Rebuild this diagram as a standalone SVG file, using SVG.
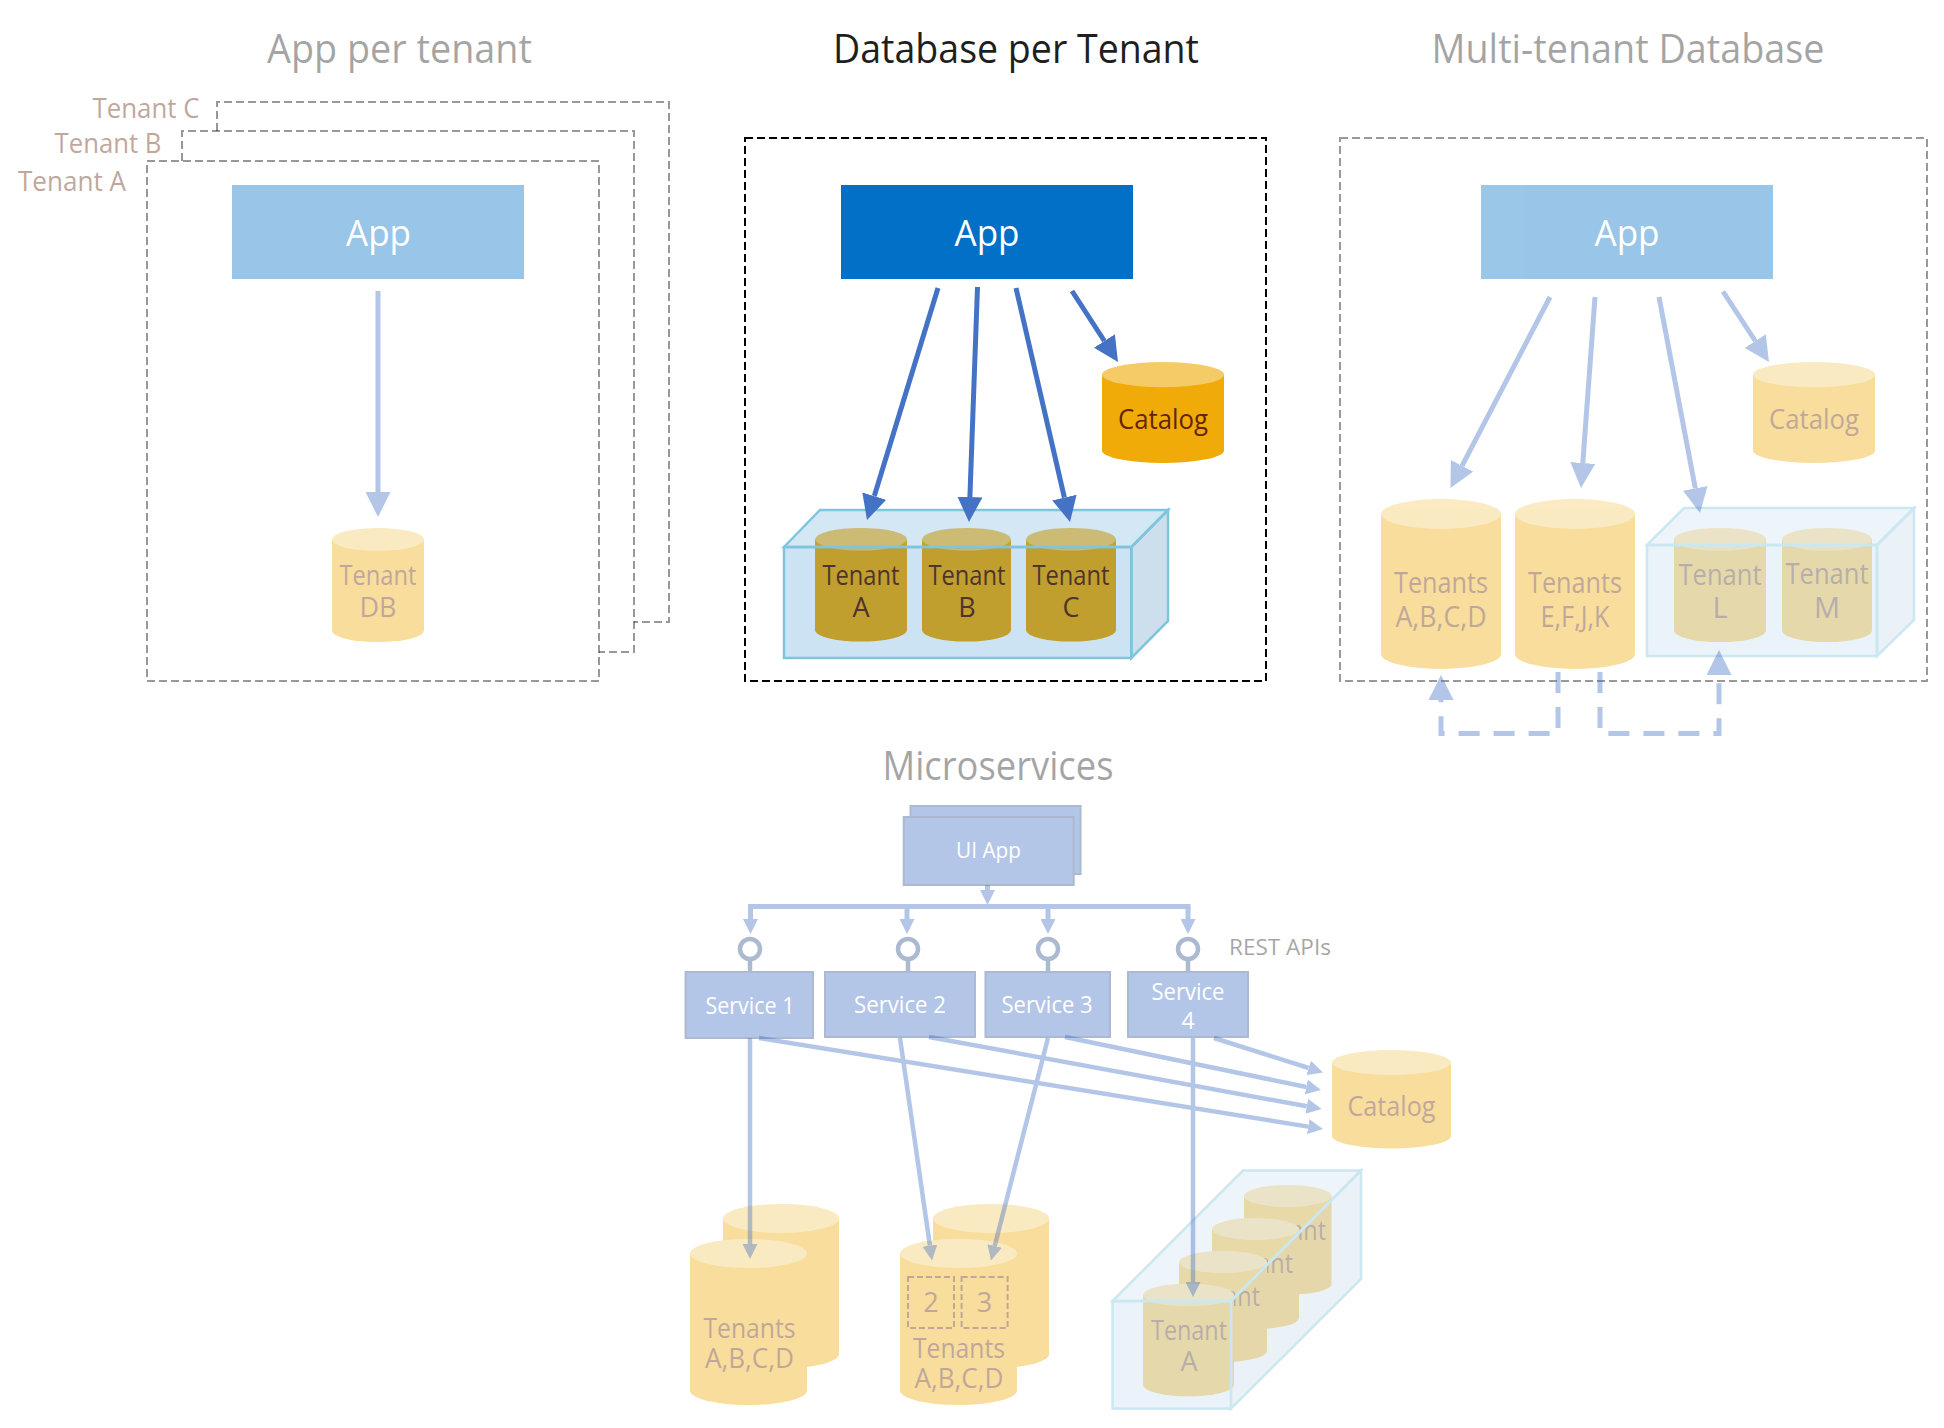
<svg xmlns="http://www.w3.org/2000/svg" width="1944" height="1428" viewBox="0 0 1944 1428">
<style>
text{font-family:"Open Sans","Noto Sans","Liberation Sans",sans-serif;font-weight:400;text-anchor:middle;fill:#632506}
.f{opacity:.4}
.title{font-size:40px;fill:#1f1f1f}
.app{font-size:36px;fill:#fff}
.lbl{font-size:27px}
.big{font-size:29px}
.sv{font-size:23px;fill:#fff}
.frame{fill:none;stroke:#000;stroke-width:2;stroke-dasharray:8 4}
.body{fill:#f0ab09}
.lid{fill:#f4cb66}
.front{fill:#0072c6;fill-opacity:.2;stroke:#7fc5dd;stroke-width:2.5}
.topf{fill:#0072c6;fill-opacity:.17;stroke:#7fc5dd;stroke-width:2.5}
.side{fill:#1b6fab;fill-opacity:.22;stroke:#7fc5dd;stroke-width:2.5}
.svc{fill:#4472c4;stroke:#2f528f;stroke-width:2}
.ln{fill:none;stroke:#4472c4;stroke-width:5}
.thin{fill:none;stroke:#4472c4;stroke-width:4.5}
.dash{stroke-dasharray:21 14}
.stem{stroke:#2f528f;stroke-width:4.5}
.ring{fill:#fff;stroke:#2f528f;stroke-width:4.5}
.mini{fill:none;stroke:#632506;stroke-width:2;stroke-dasharray:6 3}
.lg{marker-end:url(#lg)}
.sm{marker-end:url(#sm)}
</style>
<defs>
<marker id="lg" markerUnits="userSpaceOnUse" markerWidth="25" markerHeight="25" refX="0" refY="12.5" orient="auto" viewBox="0 0 25 25"><path d="M0 0L25 12.5L0 25Z" fill="#4472c4"/></marker>
<marker id="sm" markerUnits="userSpaceOnUse" markerWidth="15" markerHeight="15" refX="0" refY="7.5" orient="auto" viewBox="0 0 15 15"><path d="M0 0L15 7.5L0 15Z" fill="#4472c4"/></marker>
</defs>

<g id="title-app-per-tenant" class="f"><text class="title" x="399.5" y="63" textLength="265" lengthAdjust="spacingAndGlyphs">App per tenant</text></g>
<g id="title-database-per-tenant"><text class="title" x="1016" y="63" textLength="366" lengthAdjust="spacingAndGlyphs">Database per Tenant</text></g>
<g id="title-multi-tenant" class="f"><text class="title" x="1628" y="63" textLength="393" lengthAdjust="spacingAndGlyphs">Multi-tenant Database</text></g>
<g id="title-microservices" class="f"><text class="title" x="998" y="780" textLength="231" lengthAdjust="spacingAndGlyphs">Microservices</text></g>

<g id="frame-tenant-c" class="f"><path class="frame" d="M217 131V102H669V622H634"/><text class="lbl" x="146" y="117.5" textLength="107" lengthAdjust="spacingAndGlyphs">Tenant C</text></g>
<g id="frame-tenant-b" class="f"><path class="frame" d="M182 161V131H634V652H599"/><text class="lbl" x="108" y="152.7" textLength="107" lengthAdjust="spacingAndGlyphs">Tenant B</text></g>
<g id="frame-tenant-a" class="f"><rect class="frame" x="147" y="161" width="452" height="520"/><text class="lbl" x="72" y="190.6" textLength="108" lengthAdjust="spacingAndGlyphs">Tenant A</text></g>
<g id="app-1" class="f"><rect x="232" y="185" width="292" height="94" fill="#0070c6"/><text class="app" x="378.5" y="245.5" textLength="65" lengthAdjust="spacingAndGlyphs">App</text></g>
<g id="tenant-db" class="f"><path class="body" d="M332 539.5V630.5A46 11.5 0 0 0 424 630.5V539.5Z"/><ellipse class="lid" cx="378" cy="539.5" rx="46" ry="11.5"/><text class="lbl" x="378" y="585" textLength="77" lengthAdjust="spacingAndGlyphs">Tenant</text><text class="lbl" x="378" y="617">DB</text></g>

<g id="frame-db-per-tenant"><rect class="frame" x="745" y="138" width="521" height="543"/></g>
<g id="app-2"><rect x="841" y="185" width="292" height="94" fill="#0270c6"/><text class="app" x="987" y="245.5" textLength="65" lengthAdjust="spacingAndGlyphs">App</text></g>
<g id="catalog-2"><path class="body" d="M1102 374.600V450.400A61 12.600 0 0 0 1224 450.400V374.600Z"/><ellipse class="lid" cx="1163" cy="374.600" rx="61" ry="12.600"/><text class="lbl" x="1163" y="429" textLength="90" lengthAdjust="spacingAndGlyphs">Catalog</text></g>
<g id="tenant-a-db"><path class="body" d="M815 539.300V630.300A46 11.300 0 0 0 907 630.300V539.300Z"/><ellipse class="lid" cx="861" cy="539.300" rx="46" ry="11.300"/><text class="lbl" x="861" y="585" textLength="77" lengthAdjust="spacingAndGlyphs">Tenant</text><text class="lbl" x="861" y="617">A</text></g>
<g id="tenant-b-db"><path class="body" d="M922 539.300V630.300A44.500 11.300 0 0 0 1011 630.300V539.300Z"/><ellipse class="lid" cx="966.500" cy="539.300" rx="44.500" ry="11.300"/><text class="lbl" x="967" y="585" textLength="77" lengthAdjust="spacingAndGlyphs">Tenant</text><text class="lbl" x="967" y="617">B</text></g>
<g id="tenant-c-db"><path class="body" d="M1026 539.300V630.300A45 11.300 0 0 0 1116 630.300V539.300Z"/><ellipse class="lid" cx="1071" cy="539.300" rx="45" ry="11.300"/><text class="lbl" x="1071" y="585" textLength="77" lengthAdjust="spacingAndGlyphs">Tenant</text><text class="lbl" x="1071" y="617">C</text></g>
<g id="pool-2"><path class="topf" d="M784 547L820 510H1168L1131.400 547Z"/><path class="side" d="M1131.400 547L1168 510V621L1131.400 658Z"/><rect class="front" x="784" y="547" width="347.400" height="111"/></g>

<g id="frame-multi-tenant" class="f"><rect class="frame" x="1340" y="138" width="587" height="543"/></g>
<g id="app-3" class="f"><rect x="1481" y="185" width="292" height="94" fill="#0270c6"/><text class="app" x="1627" y="245.5" textLength="65" lengthAdjust="spacingAndGlyphs">App</text></g>
<g id="catalog-3" class="f"><path class="body" d="M1753 374.600V450.400A61 12.600 0 0 0 1875 450.400V374.600Z"/><ellipse class="lid" cx="1814" cy="374.600" rx="61" ry="12.600"/><text class="lbl" x="1814" y="429" textLength="90" lengthAdjust="spacingAndGlyphs">Catalog</text></g>
<g id="tenants-abcd" class="f"><path class="body" d="M1381 514V654A60 15 0 0 0 1501 654V514Z"/><ellipse class="lid" cx="1441" cy="514" rx="60" ry="15"/><text class="big" x="1441" y="593" textLength="94" lengthAdjust="spacingAndGlyphs">Tenants</text><text class="big" x="1441" y="627" textLength="91" lengthAdjust="spacingAndGlyphs">A,B,C,D</text></g>
<g id="tenants-efjk" class="f"><path class="body" d="M1515 514V654A60 15 0 0 0 1635 654V514Z"/><ellipse class="lid" cx="1575" cy="514" rx="60" ry="15"/><text class="big" x="1575" y="593" textLength="94" lengthAdjust="spacingAndGlyphs">Tenants</text><text class="big" x="1575" y="627" textLength="69" lengthAdjust="spacingAndGlyphs">E,F,J,K</text></g>
<g id="tenant-pool-3" class="f">
<path class="body" d="M1674 539.400V630.600A46 11.400 0 0 0 1766 630.600V539.400Z"/><ellipse class="lid" cx="1720" cy="539.400" rx="46" ry="11.400"/><text class="big" x="1720" y="585" textLength="83" lengthAdjust="spacingAndGlyphs">Tenant</text><text class="big" x="1720" y="618">L</text>
<path class="body" d="M1782 539.400V630.600A45 11.400 0 0 0 1872 630.600V539.400Z"/><ellipse class="lid" cx="1827" cy="539.400" rx="45" ry="11.400"/><text class="big" x="1827" y="584" textLength="83" lengthAdjust="spacingAndGlyphs">Tenant</text><text class="big" x="1827" y="618">M</text>
<path class="topf" d="M1647 545L1684 508H1914L1877 545Z"/><path class="side" d="M1877 545L1914 508V620L1877 656Z"/><rect class="front" x="1647" y="545" width="230" height="111"/>
</g>

<g id="ui-app" class="f"><rect class="svc" x="910.500" y="806" width="170" height="68"/><rect class="svc" x="903.700" y="817" width="170" height="68"/><text class="sv" style="font-size:21px" x="988.500" y="858" textLength="65" lengthAdjust="spacingAndGlyphs">UI App</text></g>
<g id="service-1" class="f"><line class="stem" x1="750" y1="950" x2="750" y2="972"/><circle class="ring" cx="750" cy="949" r="10"/><rect class="svc" x="685.600" y="972" width="127.400" height="66"/><text class="sv" x="750" y="1014" textLength="89" lengthAdjust="spacingAndGlyphs">Service 1</text></g>
<g id="service-2" class="f"><line class="stem" x1="908" y1="950" x2="908" y2="972"/><circle class="ring" cx="908" cy="949" r="10"/><rect class="svc" x="825" y="972" width="150" height="65"/><text class="sv" x="900" y="1013" textLength="92" lengthAdjust="spacingAndGlyphs">Service 2</text></g>
<g id="service-3" class="f"><line class="stem" x1="1048" y1="950" x2="1048" y2="972"/><circle class="ring" cx="1048" cy="949" r="10"/><rect class="svc" x="985.500" y="972" width="124.500" height="65"/><text class="sv" x="1047" y="1013" textLength="91" lengthAdjust="spacingAndGlyphs">Service 3</text></g>
<g id="service-4" class="f"><line class="stem" x1="1188" y1="950" x2="1188" y2="972"/><circle class="ring" cx="1188" cy="949" r="10"/><rect class="svc" x="1128" y="972" width="120" height="65"/><text class="sv" x="1188" y="1000" textLength="73" lengthAdjust="spacingAndGlyphs">Service</text><text class="sv" x="1188" y="1029">4</text></g>
<g id="rest-apis" class="f"><text x="1280" y="955" style="font-size:22px;fill:#1f1f1f" textLength="102" lengthAdjust="spacingAndGlyphs">REST APIs</text></g>
<g id="catalog-4" class="f"><path class="body" d="M1332 1062.500V1136A59.500 12.500 0 0 0 1451 1136V1062.500Z"/><ellipse class="lid" cx="1391.500" cy="1062.500" rx="59.500" ry="12.500"/><text class="lbl" x="1391.500" y="1116" textLength="88" lengthAdjust="spacingAndGlyphs">Catalog</text></g>
<g id="shard-1" class="f">
<path class="body" d="M723 1218.500V1354A58 14.500 0 0 0 839 1354V1218.500Z"/><ellipse class="lid" cx="781" cy="1218.500" rx="58" ry="14.500"/>
<path class="body" d="M690 1253.500V1390.500A58.500 14.500 0 0 0 807 1390.500V1253.500Z"/><ellipse class="lid" cx="748.500" cy="1253.500" rx="58.500" ry="14.500"/>
<text class="lbl" x="749.500" y="1338" textLength="92" lengthAdjust="spacingAndGlyphs">Tenants</text><text class="lbl" x="749.500" y="1368" textLength="89" lengthAdjust="spacingAndGlyphs">A,B,C,D</text></g>
<g id="shard-2" class="f">
<path class="body" d="M933 1218.500V1354A58 14.500 0 0 0 1049 1354V1218.500Z"/><ellipse class="lid" cx="991" cy="1218.500" rx="58" ry="14.500"/>
<path class="body" d="M900 1253.500V1390.500A58.500 14.500 0 0 0 1017 1390.500V1253.500Z"/><ellipse class="lid" cx="958.500" cy="1253.500" rx="58.500" ry="14.500"/>
<rect class="mini" x="908" y="1277" width="46" height="51"/><rect class="mini" x="961.600" y="1277" width="46" height="51"/>
<text class="lbl" x="931" y="1312">2</text><text class="lbl" x="984.500" y="1312">3</text>
<text class="lbl" x="959" y="1358" textLength="92" lengthAdjust="spacingAndGlyphs">Tenants</text><text class="lbl" x="959" y="1388" textLength="89" lengthAdjust="spacingAndGlyphs">A,B,C,D</text></g>
<g id="tenant-pool-4" class="f">
<path class="body" d="M1244 1196V1285A44 11 0 0 0 1331.500 1285V1196Z"/><ellipse class="lid" cx="1287.750" cy="1196" rx="43.750" ry="11"/><text class="lbl" x="1288" y="1240" textLength="76" lengthAdjust="spacingAndGlyphs">Tenant</text>
<path class="body" d="M1212 1229V1318A43.500 11 0 0 0 1299 1318V1229Z"/><ellipse class="lid" cx="1255.500" cy="1229" rx="43.500" ry="11"/><text class="lbl" x="1255" y="1273" textLength="76" lengthAdjust="spacingAndGlyphs">Tenant</text>
<path class="body" d="M1179 1262V1351A44 11 0 0 0 1267 1351V1262Z"/><ellipse class="lid" cx="1223" cy="1262" rx="44" ry="11"/><text class="lbl" x="1222" y="1306" textLength="76" lengthAdjust="spacingAndGlyphs">Tenant</text>
<path class="body" d="M1143 1295V1385A45.500 11.300 0 0 0 1234 1385V1295Z"/><ellipse class="lid" cx="1188.500" cy="1295" rx="45.500" ry="11.300"/><text class="lbl" x="1189" y="1340" textLength="76" lengthAdjust="spacingAndGlyphs">Tenant</text><text class="lbl" x="1189" y="1371">A</text>
<path class="topf" d="M1112.600 1301L1243 1170.600H1361L1231 1301Z"/><path class="side" d="M1231 1301L1361 1170.600V1279L1231 1408.600Z"/><rect class="front" x="1112.600" y="1301" width="118.400" height="107.600"/>
</g>

<g id="connectors-left" class="f"><path class="ln lg" d="M378 291V492"/></g>
<g id="connectors-middle">
<path class="ln lg" d="M938 288L874.300 496.100"/>
<path class="ln lg" d="M977.500 287L969.900 497"/>
<path class="ln lg" d="M1016 288L1064.400 497.600"/>
<path class="ln lg" d="M1072 291L1104.400 341"/>
</g>
<g id="connectors-right" class="f">
<path class="ln lg" d="M1550 297L1462 465.800"/>
<path class="ln lg" d="M1595 297L1582.800 463"/>
<path class="ln lg" d="M1659 297L1695.300 488.400"/>
<path class="ln lg" d="M1723 291.500L1755.300 341"/>
<path class="ln dash lg" d="M1558 672V733.600H1441V700"/>
<path class="ln dash lg" d="M1600 672V733.600H1719V675"/>
</g>
<g id="connectors-micro" class="f">
<path class="ln sm" d="M987.500 885V890"/>
<path class="ln" d="M748 906.600H1190.500"/>
<path class="ln sm" d="M750.500 906.600V919"/>
<path class="ln sm" d="M907 906.600V919"/>
<path class="ln sm" d="M1048 906.600V919"/>
<path class="ln sm" d="M1188 906.600V919"/>
<path class="thin sm" d="M1214 1038L1308.700 1068"/>
<path class="thin sm" d="M1065 1037L1306.300 1087"/>
<path class="thin sm" d="M929 1037L1306.800 1106.300"/>
<path class="thin sm" d="M759 1038L1308.200 1126.600"/>
<path class="thin sm" d="M750 1038V1244"/>
<path class="thin sm" d="M900 1038L929.900 1245.600"/>
<path class="thin sm" d="M1048 1038L994.700 1246"/>
<path class="thin sm" d="M1193 1038V1282"/>
</g>
</svg>
